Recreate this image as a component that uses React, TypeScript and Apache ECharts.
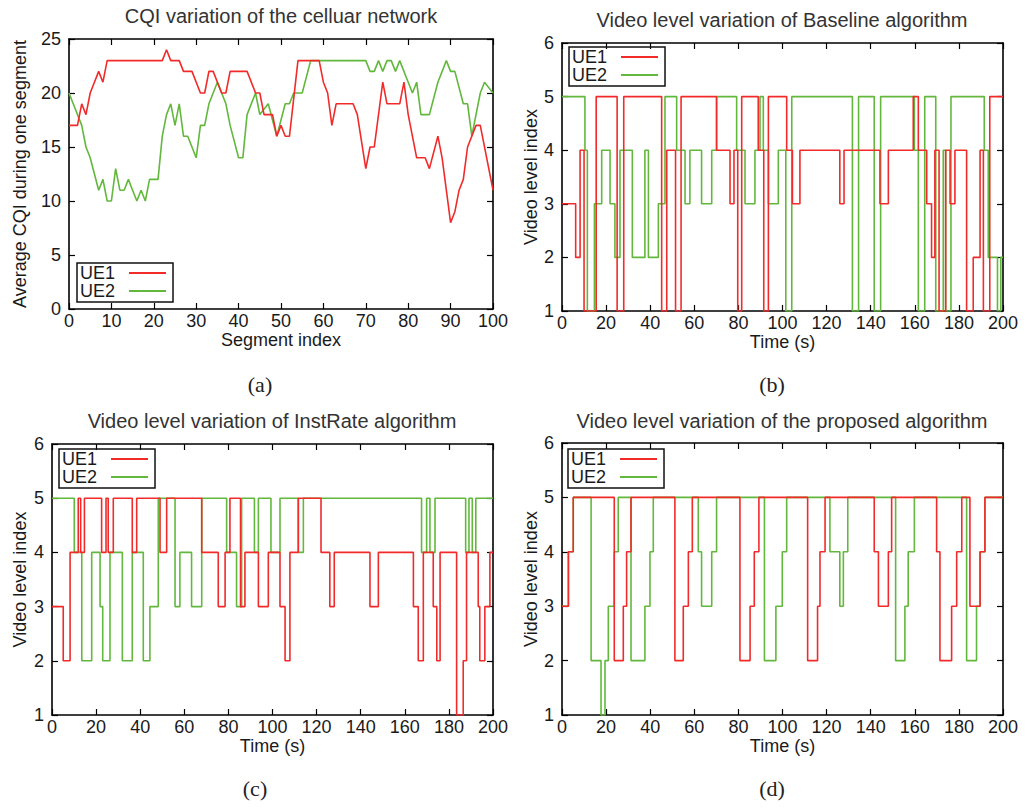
import React, { useEffect, useRef } from 'react';
import * as echarts from 'echarts';

const FONT = '"Liberation Sans", Arial, Helvetica, sans-serif';
const RED = '#f22a2a';
const GREEN = '#62b83c';

// (a) CQI per segment: [segment index, average CQI]
const cqiUE1: [number, number][] = [
  [0, 17], [2, 17], [3, 19], [4, 18], [5, 20], [7, 22], [8, 21], [9, 23], [22, 23], [23, 24], [24, 23], [26, 23],
  [27, 22], [29, 22], [31, 20], [32, 20], [33, 22], [34, 22], [36, 20], [37, 20], [38, 22], [42, 22], [44, 20],
  [45, 20], [46, 18], [48, 18], [49, 16], [50, 17], [51, 16], [52, 16], [54, 23], [59, 23], [60, 21], [61, 20],
  [62, 17], [63, 19], [67, 19], [68, 18], [70, 13], [71, 15], [72, 15], [74, 21], [75, 19], [78, 19], [79, 21],
  [80, 18], [82, 14], [84, 14], [85, 13], [87, 16], [88, 14], [90, 8], [91, 9], [92, 11], [93, 12], [94, 15],
  [96, 17], [97, 17], [100, 11],
];
const cqiUE2: [number, number][] = [
  [0, 20], [1, 19], [3, 17], [4, 15], [5, 14], [7, 11], [8, 12], [9, 10], [10, 10], [11, 13], [12, 11], [13, 11],
  [14, 12], [15, 11], [16, 10], [17, 11], [18, 10], [19, 12], [21, 12], [22, 16], [23, 18], [24, 19], [25, 17],
  [26, 19], [27, 16], [28, 16], [30, 14], [31, 17], [32, 17], [33, 19], [35, 21], [37, 19], [38, 17], [40, 14],
  [41, 14], [42, 18], [44, 20], [45, 18], [47, 19], [49, 16], [51, 19], [52, 19], [53, 20], [55, 20], [57, 23],
  [70, 23], [71, 22], [72, 22], [73, 23], [74, 22], [75, 23], [76, 23], [77, 22], [78, 23], [80, 21], [81, 20],
  [82, 21], [83, 18], [85, 18], [87, 21], [89, 23], [90, 22], [91, 22], [93, 19], [94, 19], [95, 16], [97, 20],
  [98, 21], [100, 20],
];

// (b) Baseline: change times and video levels
const baseUE1T = [0, 6.2, 8.2, 10, 15.5, 25, 28, 45.2, 47.5, 51.5, 54, 70.1, 76.2, 78, 79.7, 81.5, 89, 91.5, 93.6,
  101.9, 104.5, 107.9, 126, 127.9, 144.2, 148, 159.3, 161.6, 165.4, 167.6, 169.1, 171, 174, 176, 178.2, 183.5,
  186.5, 189.6, 191.1, 194, 200];
const baseUE1L = [3, 2, 4, 1, 5, 1, 5, 1, 4, 1, 5, 4, 3, 4, 1, 5, 4, 1, 5, 4, 3, 4, 3, 4, 3, 4, 5, 4, 3, 2, 4, 1,
  4, 3, 4, 1, 2, 4, 1, 5, 5];
const baseUE2T = [0, 10.4, 11.5, 14.7, 18, 21.8, 24, 26.3, 31.9, 37.6, 39.2, 43.7, 46.7, 52, 55.8, 58, 63.3, 67.9,
  70.1, 79.2, 83, 87.5, 89.8, 91.3, 93.6, 98.1, 101.5, 104.2, 131.7, 134.5, 141.6, 144.5, 159.8, 161.6, 164.5,
  169.5, 172.9, 174, 176.4, 191.5, 193.3, 197.5, 199, 200];
const baseUE2L = [5, 4, 1, 3, 4, 3, 2, 4, 2, 4, 2, 3, 5, 4, 3, 4, 3, 4, 5, 4, 3, 4, 5, 4, 3, 4, 1, 5, 1, 5, 1, 5,
  4, 1, 5, 1, 4, 1, 5, 4, 2, 1, 2, 2];

// (c) InstRate
const instUE1T = [0, 5.1, 8.2, 11.9, 13, 14.7, 22.5, 24.5, 25.5, 27.8, 36.4, 38.4, 49, 52, 67.9, 75.4, 78.5, 80.7,
  85.5, 87.5, 93.6, 98.1, 103.4, 105.7, 107.9, 111.7, 122, 126, 128, 144.2, 148, 163.9, 166.1, 168.4, 172.9,
  174.5, 176, 183.5, 186.5, 188, 193.3, 194, 196.3, 198.6, 200];
const instUE1L = [3, 2, 4, 5, 4, 5, 4, 5, 4, 5, 4, 5, 4, 5, 4, 3, 4, 5, 3, 4, 3, 4, 3, 2, 4, 5, 4, 3, 4, 3, 4, 3,
  2, 4, 3, 2, 4, 1, 2, 4, 3, 2, 3, 4, 4];
const instUE2T = [0, 10.1, 13.5, 18, 21.8, 23, 26.3, 31.9, 36.4, 41.4, 44.4, 48.2, 55.8, 58, 63.3, 67.9, 79.2,
  83.7, 86, 91.8, 93.6, 99.3, 103.4, 111.7, 114, 167.6, 169.9, 171.4, 173.7, 187.6, 189.1, 190.6, 192.2, 200];
const instUE2L = [5, 4, 2, 4, 3, 2, 4, 2, 4, 2, 3, 5, 3, 4, 3, 5, 4, 3, 5, 4, 5, 4, 5, 4, 5, 4, 5, 4, 5, 4, 5, 4,
  5, 5];

// (d) Proposed
const propUE1T = [0, 2.9, 5.1, 23.7, 27.8, 29.3, 31.3, 51.2, 55, 57.3, 59.1, 80.7, 85.3, 87.2, 89.3, 111.4, 115.9,
  117, 119.3, 141.6, 143.5, 148, 149.5, 169.9, 171.4, 176.7, 179, 181.3, 185, 189.6, 191.8, 200];
const propUE1L = [3, 4, 5, 2, 3, 4, 5, 2, 3, 4, 5, 2, 3, 4, 5, 2, 3, 4, 5, 4, 3, 4, 5, 4, 2, 3, 4, 5, 3, 4, 5, 5];
const propUE2T = [0, 2.9, 5.1, 13.2, 17.7, 19.5, 21, 23.7, 25.5, 31.3, 37.6, 39.9, 41.4, 61.8, 63.3, 67.9, 70.1,
  91.8, 97, 99.9, 101.9, 121.5, 126, 127.6, 129.6, 151.3, 155.5, 157, 159.8, 183.5, 188, 189.6, 191.8, 200];
const propUE2L = [3, 4, 5, 2, 1, 2, 3, 4, 5, 2, 3, 4, 5, 4, 3, 4, 5, 2, 3, 4, 5, 4, 3, 4, 5, 2, 3, 4, 5, 2, 3, 4,
  5, 5];

const titles = [
  'CQI variation of the celluar network',
  'Video level variation of Baseline algorithm',
  'Video level variation of InstRate algorithm',
  'Video level variation of the proposed algorithm',
];
const captions = ['(a)', '(b)', '(c)', '(d)'];
const seriesNames = ['UE1', 'UE2'];

const pairs = (T: number[], L: number[]) => T.map((t, i) => [t, L[i]]);

export default function App() {
  const ref = useRef<HTMLDivElement>(null);
  useEffect(() => {
    if (!ref.current) return;
    const chart = echarts.init(ref.current, undefined, { renderer: 'svg' });

    const grids = [
      { left: 69, top: 39, width: 424, height: 270 },
      { left: 562, top: 43, width: 441, height: 268 },
      { left: 52, top: 444, width: 441, height: 271 },
      { left: 562, top: 443, width: 441, height: 272 },
    ];
    const xCfg = [
      { min: 0, max: 100, interval: 10, name: 'Segment index' },
      { min: 0, max: 200, interval: 20, name: 'Time (s)' },
      { min: 0, max: 200, interval: 20, name: 'Time (s)' },
      { min: 0, max: 200, interval: 20, name: 'Time (s)' },
    ];
    const yCfg = [
      { min: 0, max: 25, interval: 5, name: 'Average CQI during one segment', gap: 40 },
      { min: 1, max: 6, interval: 1, name: 'Video level index', gap: 9 },
      { min: 1, max: 6, interval: 1, name: 'Video level index', gap: 23 },
      { min: 1, max: 6, interval: 1, name: 'Video level index', gap: 9 },
    ];
    const axisLine = { show: true, onZero: false, lineStyle: { color: '#000', width: 1.6 } };
    const axisTick = { show: true, inside: true, length: 6, lineStyle: { color: '#000', width: 1.2 } };
    const textBase = { fontFamily: FONT, fontSize: 18, color: '#1a1a1a' };

    const xAxis: any[] = [];
    const yAxis: any[] = [];
    grids.forEach((_, i) => {
      const xc = xCfg[i];
      const yc = yCfg[i];
      xAxis.push({
        type: 'value', gridIndex: i, position: 'bottom', min: xc.min, max: xc.max, interval: xc.interval,
        name: xc.name, nameLocation: 'middle', nameGap: 21, nameTextStyle: textBase,
        axisLine, axisTick, axisLabel: { ...textBase, margin: 3 }, splitLine: { show: false },
      });
      xAxis.push({
        type: 'value', gridIndex: i, position: 'top', min: xc.min, max: xc.max, interval: xc.interval,
        axisLine, axisTick, axisLabel: { show: false }, splitLine: { show: false },
      });
      yAxis.push({
        type: 'value', gridIndex: i, position: 'left', min: yc.min, max: yc.max, interval: yc.interval,
        name: yc.name, nameLocation: 'middle', nameGap: yc.gap, nameRotate: 90, nameTextStyle: textBase,
        axisLine, axisTick, axisLabel: { ...textBase, margin: 8 }, splitLine: { show: false },
      });
      yAxis.push({
        type: 'value', gridIndex: i, position: 'right', min: yc.min, max: yc.max, interval: yc.interval,
        axisLine, axisTick, axisLabel: { show: false }, splitLine: { show: false },
      });
    });

    const dataSets = [
      [cqiUE1, cqiUE2],
      [pairs(baseUE1T, baseUE1L), pairs(baseUE2T, baseUE2L)],
      [pairs(instUE1T, instUE1L), pairs(instUE2T, instUE2L)],
      [pairs(propUE1T, propUE1L), pairs(propUE2T, propUE2L)],
    ];
    const series: any[] = [];
    dataSets.forEach((ds, i) => {
      ds.forEach((d, k) => {
        const color = k === 0 ? RED : GREEN;
        series.push({
          type: 'line', name: seriesNames[k], xAxisIndex: 2 * i, yAxisIndex: 2 * i, data: d,
          step: i === 0 ? false : 'end', showSymbol: false, symbol: 'none', clip: true,
          lineStyle: { color, width: 1.6 }, itemStyle: { color }, z: k === 0 ? 3 : 2,
        });
      });
    });

    const legendPos = [
      { left: 77, top: 263 },
      { left: 569, top: 47 },
      { left: 59, top: 449 },
      { left: 568, top: 449 },
    ];
    const legend = legendPos.map((p) => ({
      ...p, orient: 'vertical', align: 'right', icon: 'rect', itemWidth: 37, itemHeight: 2, itemGap: 0,
      padding: [1, 7, 2, 3], borderColor: '#111', borderWidth: 1.5, selectedMode: false,
      textStyle: { ...textBase, padding: [0, 9, 0, 0] }, data: seriesNames,
    }));

    const titlePos = [
      { left: 281, top: 6 },
      { left: 782, top: 10 },
      { left: 272, top: 411 },
      { left: 782, top: 411 },
    ];
    const title = titles.map((t, i) => ({
      text: t, ...titlePos[i], textAlign: 'center', padding: 0,
      textStyle: { ...textBase, fontSize: 20, color: '#333', fontWeight: 'normal' },
    }));

    const capPos = [[260, 384], [772, 384], [255, 788], [772, 788]];
    const graphic = captions.map((c, i) => ({
      type: 'text', x: capPos[i][0], y: capPos[i][1],
      style: { text: c, fontFamily: '"Liberation Serif", "Times New Roman", serif', fontSize: 22, fill: '#222',
        align: 'center', verticalAlign: 'middle' },
    }));

    chart.setOption({
      animation: false,
      backgroundColor: '#fff',
      title, legend, grid: grids, xAxis, yAxis, series, graphic,
    });
    return () => chart.dispose();
  }, []);
  return <div ref={ref} style={{ position: 'fixed', left: 0, top: 0, width: 1027, height: 808 }} />;
}
